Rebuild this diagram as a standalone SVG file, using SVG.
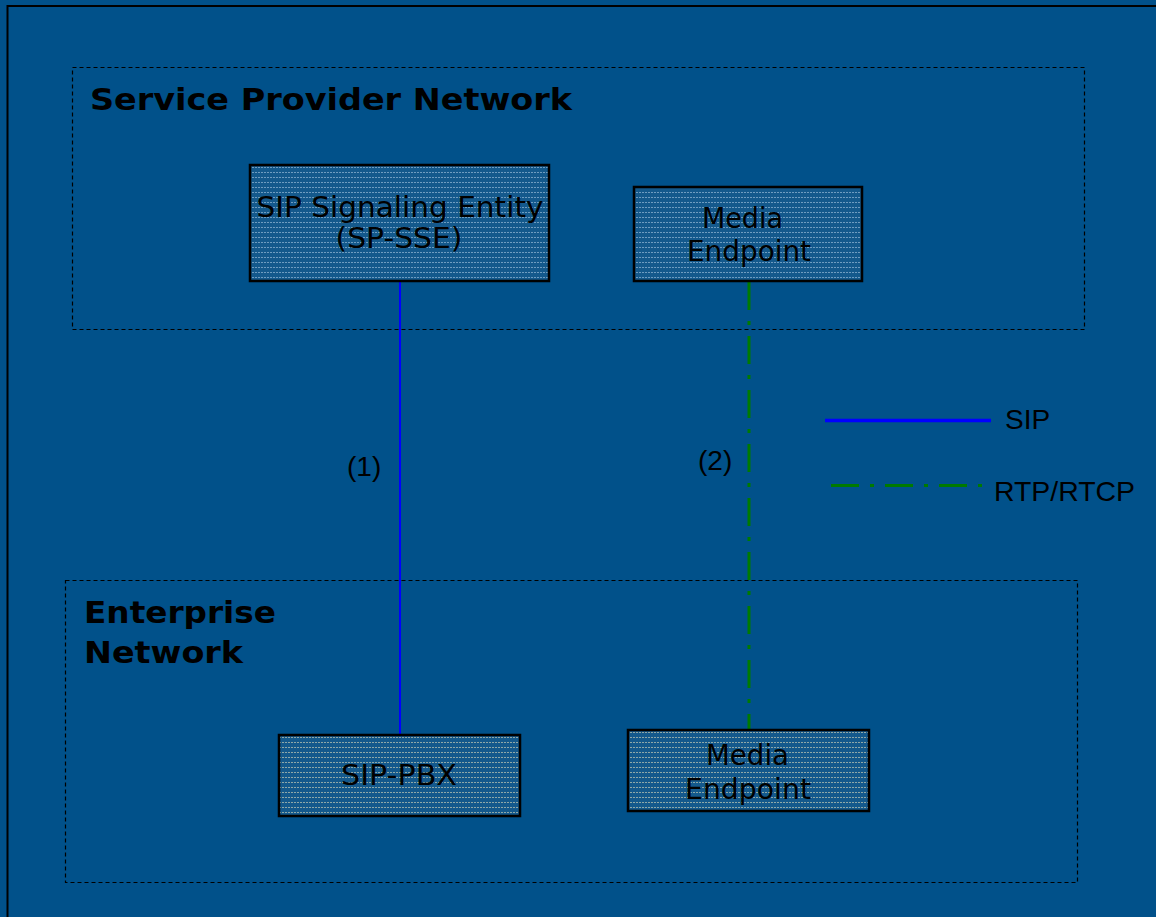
<svg xmlns="http://www.w3.org/2000/svg" width="1156" height="917" viewBox="0 0 1156 917">
<defs>
<pattern id="dots" width="3" height="5" patternUnits="userSpaceOnUse">
<rect width="3" height="5" fill="#14598c"/>
<rect x="0" y="2" width="2" height="1" fill="#6f9cc0"/>
</pattern>
<pattern id="dots2" width="3" height="5" patternUnits="userSpaceOnUse">
<rect width="3" height="5" fill="#14598c"/>
<rect x="0" y="2" width="2" height="1" fill="#8fa8a8"/>
</pattern>
</defs>
<style>
.zone{fill:none;stroke:#000;stroke-width:1.2;stroke-dasharray:4 3}
.box{stroke:#000;stroke-width:2.5}
.ztitle{font-family:"DejaVu Sans",Verdana,sans-serif;font-weight:bold;font-size:31px;fill:#000}
.btext{font-family:"DejaVu Sans",Verdana,sans-serif;font-size:28px;fill:#000;text-anchor:middle}
.lbl{font-family:"Liberation Sans",Arial,sans-serif;font-size:28px;fill:#000}
.sip{stroke:#0000ff;stroke-width:2;fill:none}
.rtp{stroke:#007a00;stroke-width:3;fill:none;stroke-dasharray:28 11 4 11}
</style>
<rect width="1156" height="917" fill="#01518a"/>
<rect x="7.5" y="6" width="1160" height="930" fill="none" stroke="#000" stroke-width="2"/>

<g id="sp-network">
<rect class="zone" x="72.5" y="67.5" width="1012" height="262"/>
<text class="ztitle" x="90" y="110" textLength="482" lengthAdjust="spacingAndGlyphs">Service Provider Network</text>
</g>
<g id="enterprise-network">
<rect class="zone" x="65.5" y="580.5" width="1012" height="302"/>
<text class="ztitle" x="84" y="623" textLength="192" lengthAdjust="spacingAndGlyphs">Enterprise</text>
<text class="ztitle" x="84" y="663" textLength="159" lengthAdjust="spacingAndGlyphs">Network</text>
</g>

<g id="connectors">
<line class="sip" x1="400" y1="281" x2="400" y2="734"/>
<line class="rtp" x1="749" y1="282" x2="749" y2="729"/>
</g>

<g id="sp-sse">
<rect class="box" fill="url(#dots)" x="250" y="165" width="299" height="116"/>
<text class="btext" x="400" y="217" textLength="287" lengthAdjust="spacingAndGlyphs">SIP Signaling Entity</text>
<text class="btext" x="399" y="248" textLength="127" lengthAdjust="spacingAndGlyphs">(SP-SSE)</text>
</g>
<g id="media-endpoint-sp">
<rect class="box" fill="url(#dots)" x="634" y="187" width="228" height="94"/>
<text class="btext" x="742.5" y="228" textLength="81" lengthAdjust="spacingAndGlyphs">Media</text>
<text class="btext" x="749" y="261" textLength="124" lengthAdjust="spacingAndGlyphs">Endpoint</text>
</g>
<g id="sip-pbx">
<rect class="box" fill="url(#dots2)" x="279" y="735" width="241" height="81"/>
<text class="btext" x="399" y="785" textLength="116" lengthAdjust="spacingAndGlyphs">SIP-PBX</text>
</g>
<g id="media-endpoint-ent">
<rect class="box" fill="url(#dots2)" x="628" y="730" width="241" height="81"/>
<text class="btext" x="747.5" y="765" textLength="83" lengthAdjust="spacingAndGlyphs">Media</text>
<text class="btext" x="748" y="799" textLength="126" lengthAdjust="spacingAndGlyphs">Endpoint</text>
</g>

<g id="labels">
<text class="lbl" x="347" y="476">(1)</text>
<text class="lbl" x="698" y="470">(2)</text>
</g>
<g id="legend">
<line class="sip" x1="825" y1="420.5" x2="991" y2="420.5" style="stroke-width:3.5"/>
<text class="lbl" x="1005" y="429">SIP</text>
<line class="rtp" x1="831" y1="485.5" x2="985" y2="485.5"/>
<text class="lbl" x="994" y="501" textLength="141" lengthAdjust="spacingAndGlyphs">RTP/RTCP</text>
</g>
</svg>
